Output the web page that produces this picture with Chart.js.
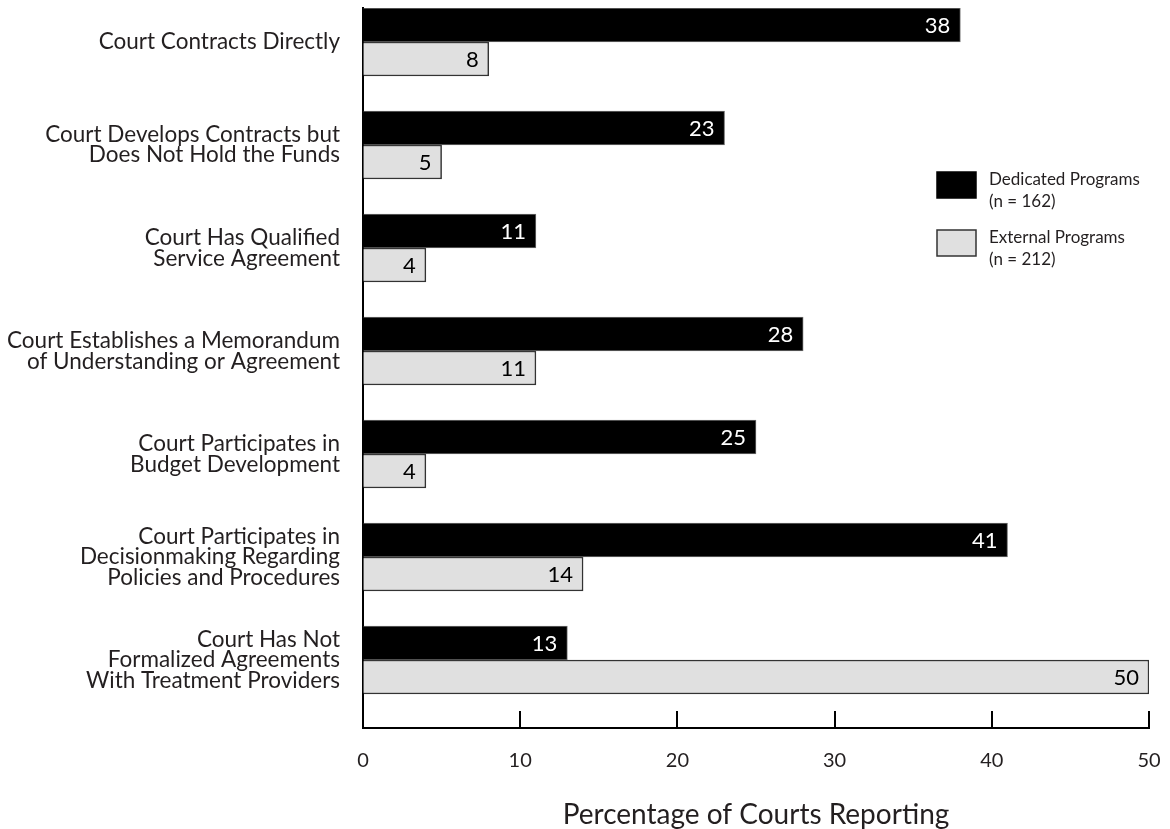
<!DOCTYPE html>
<html>
<head>
<meta charset="utf-8">
<script src="https://cdn.jsdelivr.net/npm/chart.js@4/dist/chart.umd.min.js"></script>
<style>
  html, body { margin: 0; padding: 0; background: #fff; }
  #wrap { position: relative; width: 1170px; height: 829px; }
</style>
</head>
<body>
<div id="wrap"><canvas id="c" width="1170" height="829"></canvas></div>
<script>
// ---- data ----
const categories = [
  "Court Contracts Directly",
  ["Court Develops Contracts but", "Does Not Hold the Funds"],
  ["Court Has Qualified", "Service Agreement"],
  ["Court Establishes a Memorandum", "of Understanding or Agreement"],
  ["Court Participates in", "Budget Development"],
  ["Court Participates in", "Decisionmaking Regarding", "Policies and Procedures"],
  ["Court Has Not", "Formalized Agreements", "With Treatment Providers"]
];
const dedicatedPrograms = [38, 23, 11, 28, 25, 41, 13];
const externalPrograms  = [8, 5, 4, 11, 4, 14, 50];
const seriesNames = ["Dedicated Programs", "External Programs"];
const sampleSizes = [162, 212];
const xTickValues = [0, 10, 20, 30, 40, 50];
const xAxisTitle = "Percentage of Courts Reporting";

const FONT = "Lato, 'Open Sans', sans-serif";
const TEXT = "#231f20";

const toPoints = vals => vals.map((v, i) => ({ x: v, y: i }));

const valueLabels = {
  id: 'valueLabels',
  afterDatasetsDraw(chart) {
    const ctx = chart.ctx;
    ctx.save();
    ctx.font = "22px " + FONT;
    ctx.textAlign = 'right';
    ctx.textBaseline = 'middle';
    chart.data.datasets.forEach((ds, di) => {
      const meta = chart.getDatasetMeta(di);
      meta.data.forEach((bar, i) => {
        ctx.fillStyle = di === 0 ? '#ffffff' : '#000000';
        ctx.fillText(String(ds.data[i].x), bar.x - 10, bar.y + 1);
      });
    });
    ctx.restore();
  }
};

const axisTicks = {
  id: 'axisTicks',
  afterDraw(chart) {
    const ctx = chart.ctx, xs = chart.scales.x, area = chart.chartArea;
    ctx.save();
    ctx.strokeStyle = '#000';
    ctx.lineWidth = 2;
    xTickValues.forEach(v => {
      const px = Math.round(xs.getPixelForValue(v));
      ctx.beginPath();
      ctx.moveTo(px, area.bottom - 17);
      ctx.lineTo(px, area.bottom);
      ctx.stroke();
    });
    ctx.restore();
  }
};

const customLegend = {
  id: 'customLegend',
  afterDraw(chart) {
    const ctx = chart.ctx;
    const L = { x: 937, y: 172, w: 39, h: 26, gap: 58, tx: 989 };
    ctx.save();
    chart.data.datasets.forEach((ds, i) => {
      const y = L.y + i * L.gap;
      ctx.fillStyle = ds.backgroundColor;
      ctx.fillRect(L.x, y, L.w, L.h);
      ctx.strokeStyle = i === 0 ? '#000' : '#333';
      ctx.lineWidth = 1.5;
      ctx.strokeRect(L.x, y, L.w, L.h);
      ctx.fillStyle = TEXT;
      ctx.font = "17px " + FONT;
      ctx.textAlign = 'left';
      ctx.textBaseline = 'middle';
      ctx.fillText(ds.label, L.tx, y + 8);
      ctx.fillText("(n = " + sampleSizes[i] + ")", L.tx, y + 30);
    });
    ctx.restore();
  }
};

new Chart(document.getElementById('c'), {
  type: 'bar',
  data: {
    datasets: [
      { label: seriesNames[0], data: toPoints(dedicatedPrograms),
        backgroundColor: '#000000', borderColor: '#6b6b6b', borderWidth: 1 },
      { label: seriesNames[1], data: toPoints(externalPrograms),
        backgroundColor: '#e0e0e0', borderColor: '#333333', borderWidth: 1.5 }
    ]
  },
  options: {
    indexAxis: 'y',
    responsive: false,
    animation: false,
    barThickness: 34,
    layout: { padding: { top: 8, right: 21, left: 0, bottom: 0 } },
    plugins: { legend: { display: false }, tooltip: { enabled: false } },
    scales: {
      x: {
        type: 'linear', min: 0, max: 50,
        afterBuildTicks: s => { s.ticks = xTickValues.map(v => ({ value: v })); },
        afterFit: s => { s.height = 101; s.paddingLeft = 0; s.paddingRight = 0; },
        grid: { display: true, drawOnChartArea: false, drawTicks: false },
        border: { display: true, color: '#000', width: 2 },
        ticks: { padding: 21, color: TEXT, font: { family: FONT, size: 20 } },
        title: { display: true, text: xAxisTitle, color: TEXT,
                 font: { family: FONT, size: 28, lineHeight: 1 },
                 padding: { top: 0, bottom: 0 } }
      },
      y: {
        type: 'linear', reverse: true, offset: false, min: -0.33, max: 6.66,
        afterBuildTicks: s => { s.ticks = categories.map((_, i) => ({ value: i })); },
        afterFit: s => { s.width = 363; s.paddingTop = 0; s.paddingBottom = 0; },
        grid: { display: true, offset: false, drawOnChartArea: false, drawTicks: false },
        border: { display: true, color: '#000', width: 2 },
        ticks: { padding: 23, color: TEXT, font: { family: FONT, size: 22.5, lineHeight: '20.5px' },
                 callback: v => categories[v] }
      }
    }
  },
  plugins: [valueLabels, axisTicks, customLegend]
});
</script>
</body>
</html>
